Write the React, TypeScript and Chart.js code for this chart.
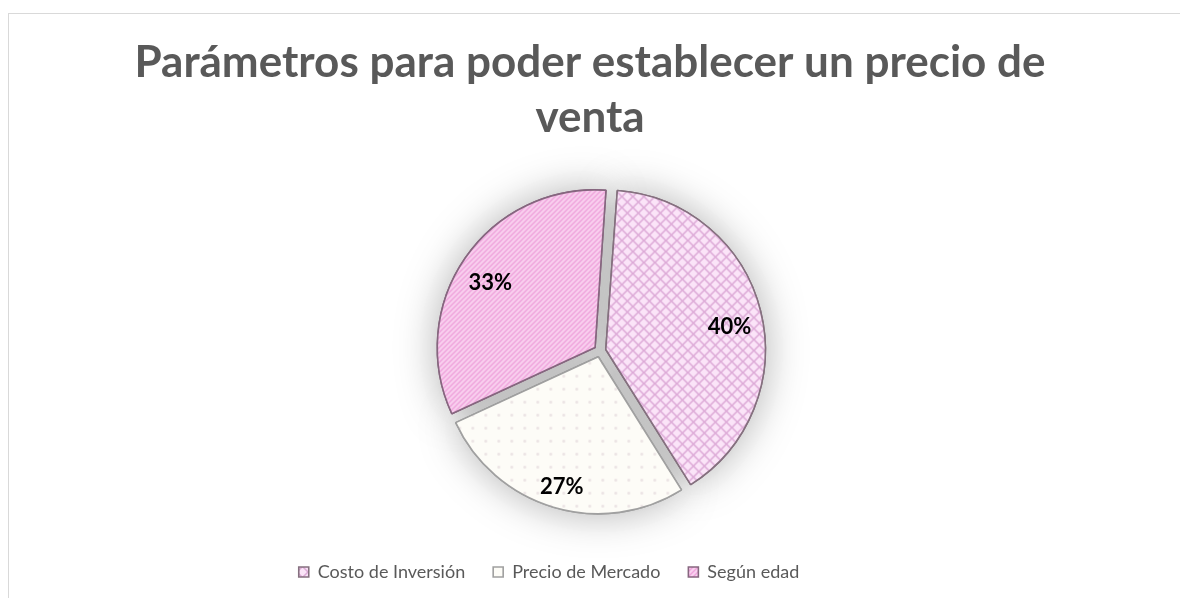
import React, { useEffect, useRef } from "react";
import { Chart, registerables } from "chart.js";

Chart.register(...registerables);

const chartTitle = ["Parámetros para poder establecer un precio de", "venta"];
const categories = ["Costo de Inversión", "Precio de Mercado", "Según edad"];
const shares = [40, 27, 33];

function makePattern(kind: string): CanvasPattern | string {
  const c = document.createElement("canvas");
  const ctx = c.getContext("2d");
  if (!ctx) return "#f0d0ec";
  if (kind === "diamond") {
    const s = 11;
    c.width = s; c.height = s;
    ctx.fillStyle = "#fbe4f8";
    ctx.fillRect(0, 0, s, s);
    ctx.strokeStyle = "#ddaad7";
    ctx.lineWidth = 1.5;
    ctx.beginPath();
    ctx.moveTo(-1, -1); ctx.lineTo(s + 1, s + 1);
    ctx.moveTo(s + 1, -1); ctx.lineTo(-1, s + 1);
    ctx.stroke();
  } else if (kind === "stripe") {
    const s = 5;
    c.width = s; c.height = s;
    ctx.fillStyle = "#f9d0ef";
    ctx.fillRect(0, 0, s, s);
    ctx.strokeStyle = "#efa3dc";
    ctx.lineWidth = 1.4;
    ctx.beginPath();
    ctx.moveTo(0, s); ctx.lineTo(s, 0);
    ctx.moveTo(-1, 1); ctx.lineTo(1, -1);
    ctx.moveTo(s - 1, s + 1); ctx.lineTo(s + 1, s - 1);
    ctx.stroke();
  } else {
    const s = 13;
    c.width = s; c.height = s;
    ctx.fillStyle = "#fdfcf7";
    ctx.fillRect(0, 0, s, s);
    ctx.fillStyle = "#ebe3e4";
    ctx.beginPath();
    ctx.arc(6.5, 6.5, 1.4, 0, Math.PI * 2);
    ctx.fill();
  }
  const p = ctx.createPattern(c, "repeat");
  return p || "#f0d0ec";
}

const shiftPlugin = {
  id: "shiftPie",
  afterLayout(chart: any) {
    chart.chartArea.left += 20;
    chart.chartArea.width = chart.chartArea.right - chart.chartArea.left;
    if (chart.legend) {
      chart.legend.right -= 82;
      chart.legend.width = chart.legend.right - chart.legend.left;
      chart.legend.top -= 7;
      chart.legend.bottom -= 7;
    }
  },
};

const shadowPlugin = {
  id: "pieShadow",
  beforeDatasetsDraw(chart: any) {
    const ctx = chart.ctx;
    const meta = chart.getDatasetMeta(0);
    ctx.save();
    ctx.shadowColor = "rgba(0,0,0,0.3)";
    ctx.shadowBlur = 42;
    meta.data.forEach((arc: any) => arc.draw(ctx));
    ctx.restore();
  },
};

const labelPlugin = {
  id: "pctLabels",
  afterDatasetsDraw(chart: any) {
    const ctx = chart.ctx;
    const meta = chart.getDatasetMeta(0);
    const data = chart.data.datasets[0].data as number[];
    const total = data.reduce((a, b) => a + b, 0);
    ctx.save();
    ctx.font = "bold 22px Lato";
    ctx.fillStyle = "#000000";
    ctx.textAlign = "center";
    ctx.textBaseline = "middle";
    meta.data.forEach((arc: any, i: number) => {
      const p = arc.getProps(["x", "y", "startAngle", "endAngle", "outerRadius"], true);
      const mid = (p.startAngle + p.endAngle) / 2;
      const d = p.outerRadius * 0.85;
      const txt = Math.round((data[i] / total) * 100) + "%";
      ctx.fillText(txt, p.x + Math.cos(mid) * d, p.y + Math.sin(mid) * d + 8);
    });
    ctx.restore();
  },
};

export default function App() {
  const ref = useRef<HTMLCanvasElement | null>(null);
  useEffect(() => {
    if (!ref.current) return;
    const colors = [makePattern("diamond"), makePattern("dots"), makePattern("stripe")];
    const chart = new Chart(ref.current, {
      type: "pie",
      data: {
        labels: categories,
        datasets: [
          {
            data: shares,
            backgroundColor: colors as any,
            borderColor: ["#85707f", "#a0a0a0", "#86667f"],
            borderWidth: 1.6,
            offset: 24,
            radius: 157,
            rotation: 4,
          } as any,
        ],
      },
      options: {
        responsive: false,
        animation: false,
        layout: { padding: 0 },
        plugins: {
          title: {
            display: true,
            text: chartTitle,
            color: "#595959",
            font: { family: "Lato", size: 44, weight: "bold", lineHeight: 1.25 },
            padding: { top: 35, bottom: 15 },
          },
          legend: {
            position: "bottom",
            labels: {
              color: "#595959",
              font: { family: "Lato", size: 18 },
              boxWidth: 10,
              boxHeight: 10,
              padding: 28,
            },
          },
          tooltip: { enabled: false },
        },
      } as any,
      plugins: [shiftPlugin, shadowPlugin, labelPlugin],
    });
    return () => chart.destroy();
  }, []);

  return (
    <div style={{ position: "fixed", left: 0, top: 0, width: 1180, height: 598, overflow: "hidden", background: "#ffffff" }}>
      <div style={{ position: "absolute", left: 8, top: 13, width: 1250, height: 700, border: "1px solid #d9d9d9" }} />
      <canvas ref={ref} width={1180} height={598} style={{ position: "absolute", left: 0, top: 0, display: "block" }} />
    </div>
  );
}
